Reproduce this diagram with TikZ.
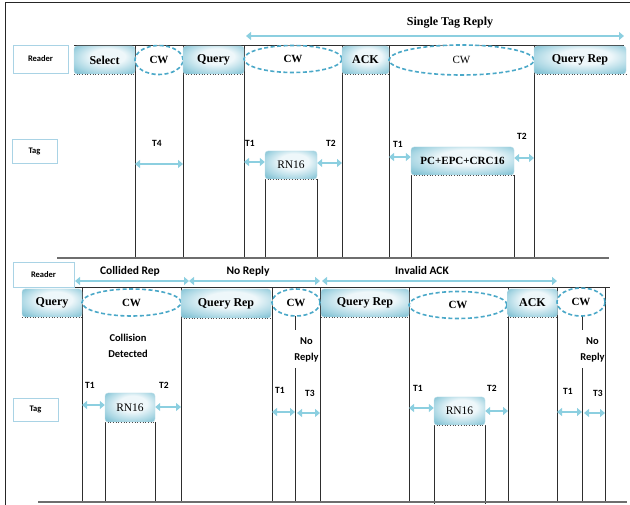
\documentclass[tikz,border=0pt]{standalone}
\usepackage{fontspec}
\setmainfont{Liberation Serif}
\newfontfamily\sansf{Carlito}
\usetikzlibrary{arrows.meta,shapes.geometric}
\definecolor{arrowc}{HTML}{8CCFE0}
\definecolor{dashc}{HTML}{4AA8C8}
\definecolor{boxd}{HTML}{58ABC3}
\definecolor{boxm}{HTML}{A8D6E3}
\definecolor{boxl}{HTML}{EEF7FA}
\definecolor{lblb}{HTML}{A9D3E5}
\definecolor{vline}{HTML}{2E2E2E}
\definecolor{basec}{HTML}{6E6E6E}
\pgfdeclareradialshading{boxshade}{\pgfpoint{4bp}{9bp}}{%
  color(0bp)=(boxl); color(14bp)=(boxl); color(28bp)=(boxm); color(42bp)=(boxd); color(50bp)=(boxd)}
\tikzset{
  msg/.style={rectangle, rounded corners=3pt, shading=boxshade,
    draw=boxd!40, line width=0.4pt, text=black, font=\bfseries\fontsize{12}{12}\selectfont, inner sep=0pt},
  tagmsg/.style={msg, font=\fontsize{11.5}{12}\selectfont},
  cw/.style={ellipse, draw=dashc, line width=1.6pt, dash pattern=on 4pt off 2.5pt,
    font=\bfseries\fontsize{11}{12}\selectfont, inner sep=0pt},
  lbl/.style={rectangle, draw=lblb, line width=0.9pt, fill=white, inner sep=0pt,
    font=\sansf\bfseries\fontsize{8.5}{10}\selectfont},
  tl/.style={font=\sansf\bfseries\fontsize{9.5}{10}\selectfont, inner sep=0pt},
  sl/.style={font=\sansf\bfseries\fontsize{11.5}{12}\selectfont, inner sep=0pt},
  dbl/.style={draw=arrowc, line width=2.6pt, {Triangle[length=5pt,width=8pt]}-{Triangle[length=5pt,width=8pt]}},
  vl/.style={draw=vline, line width=1pt},
  base/.style={draw=basec, line width=2.4pt},
  dotb/.style={draw=black!70, line width=0.7pt, dotted},
}
\begin{document}
\begin{tikzpicture}[x=1pt,y=-1pt]
\useasboundingbox (0,0) rectangle (630,505);
% outer frame
\draw[draw=black!85, line width=1pt] (5,505) -- (5,3) -- (630,3);

% ================= top section =================
\node[lbl, minimum width=55, minimum height=28] (rd1) at (40.5,59) {Reader};
\node[lbl, minimum width=45, minimum height=24] (tg1) at (34.5,151) {Tag};

\foreach \x in {135,183,244,342,389,534} \draw[vl] (\x,46) -- (\x,258);
\foreach \x in {265,317} \draw[vl] (\x,179) -- (\x,258);
\foreach \x in {411,514} \draw[vl] (\x,175) -- (\x,258);
\draw[vl] (74,46) -- (624,46);
\draw[base] (57,258) -- (609,258);

\node[msg, minimum width=61, minimum height=28] (sel) at (104.5,60) {Select};
\node[cw, minimum width=48, minimum height=29, fill=white] (cw1) at (159,60) {CW};
\node[msg, minimum width=61, minimum height=28] (qry) at (213.5,60) {Query};
\node[cw, minimum width=98, minimum height=27, fill=white] (cw2) at (293,59) {CW};
\node[msg, minimum width=47, minimum height=28] (ack) at (365.5,60) {ACK};
\node[cw, minimum width=145, minimum height=30, fill=white, font=\fontsize{11}{12}\selectfont] (cw3) at (461.5,60) {CW};
\node[msg, minimum width=92, minimum height=28] (qrp) at (580,60) {Query Rep};
\foreach \n in {sel,qry,ack,qrp} \draw[dotb] (\n.south west) -- (\n.south east);

\coordinate (st1) at (246,36);
\coordinate (st2) at (624,36);
\draw[dbl] (st1) -- (st2);
\node[font=\bfseries\fontsize{12}{12}\selectfont] (stl) at (450,23) {Single Tag Reply};

\node[tagmsg, minimum width=52, minimum height=28] (rn1) at (291,165) {RN16};
\node[tagmsg, minimum width=103, minimum height=28, font=\bfseries\fontsize{11}{12}\selectfont] (pc) at (462.5,161) {PC+EPC+CRC16};
\foreach \n in {rn1,pc} \draw[dotb] (\n.south west) -- (\n.south east);

\node[tl] (t4) at (157,143) {T4};
\draw[dbl] (135,164) -- (183,164);
\node[tl] (t1a) at (250,143) {T1};
\draw[dbl] (244,162) -- (rn1.west |- 0,162);
\node[tl] (t2a) at (331,143) {T2};
\draw[dbl] (rn1.east |- 0,163) -- (342,163);
\node[tl] (t1b) at (398,144) {T1};
\draw[dbl] (389,157) -- (pc.west |- 0,157);
\node[tl] (t2b) at (522,136) {T2};
\draw[dbl] (pc.east |- 0,158) -- (534,158);

% ================= bottom section =================
\node[lbl, minimum width=61, minimum height=25] (rd2) at (43.5,274.5) {Reader};
\node[lbl, minimum width=45, minimum height=23] (tg2) at (35.5,409.5) {Tag};

\foreach \x in {82,181,272,320,409,508,557,605} \draw[vl] (\x,288) -- (\x,502);
\foreach \x in {105,155} \draw[vl] (\x,422) -- (\x,502);
\foreach \x in {434,485} \draw[vl] (\x,425) -- (\x,504);
\foreach \x in {295,582} {\draw[vl] (\x,316) -- (\x,330); \draw[vl] (\x,368) -- (\x,502);}
\draw[vl] (75,288) -- (610,288);
\draw[base] (38,502) -- (627,502);

\draw[dbl] (75,281) -- (189,281);
\draw[dbl] (189,281) -- (320,281);
\draw[dbl] (322,281) -- (557,281);
\node[sl] (cr) at (130,271) {Collided Rep};
\node[sl] (nr) at (248,271) {No Reply};
\node[sl] (ia) at (422,271) {Invalid ACK};

\node[msg, minimum width=60, minimum height=28] (q2) at (52,303) {Query};
\node[cw, minimum width=99, minimum height=27, fill=white] (cw4) at (131.5,302.5) {CW};
\node[msg, minimum width=90, minimum height=29] (qr2) at (226,303.5) {Query Rep};
\node[cw, minimum width=48, minimum height=27, fill=white] (cw5) at (296,302.5) {CW};
\node[msg, minimum width=88, minimum height=28] (qr3) at (365,303) {Query Rep};
\node[cw, minimum width=98, minimum height=27, fill=white] (cw6) at (458,305) {CW};
\node[msg, minimum width=50, minimum height=28] (ack2) at (532.5,303) {ACK};
\node[cw, minimum width=48, minimum height=28, fill=white] (cw7) at (581,302) {CW};
\foreach \n in {q2,qr2,qr3,ack2} \draw[dotb] (\n.south west) -- (\n.south east);

\node[sl, align=center, font=\sansf\bfseries\fontsize{10.5}{16}\selectfont] (cd) at (128,346) {Collision\\Detected};
\node[sl, align=center, font=\sansf\bfseries\fontsize{10.5}{16}\selectfont] (nr1) at (306.5,350) {No\\Reply};
\node[sl, align=center, font=\sansf\bfseries\fontsize{10.5}{16}\selectfont] (nr2) at (592.5,350) {No\\Reply};

\node[tagmsg, minimum width=50, minimum height=29] (rn2) at (130,407.5) {RN16};
\node[tagmsg, minimum width=51, minimum height=28] (rn3) at (459.5,411) {RN16};
\foreach \n in {rn2,rn3} \draw[dotb] (\n.south west) -- (\n.south east);

\node[tl] (t1c) at (90,385) {T1};
\draw[dbl] (82,405) -- (rn2.west |- 0,405);
\node[tl] (t2c) at (164,385) {T2};
\draw[dbl] (rn2.east |- 0,407) -- (181,407);
\node[tl] (t1d) at (280,390) {T1};
\draw[dbl] (272,412) -- (295,412);
\node[tl] (t3a) at (310,393) {T3};
\draw[dbl] (297,413) -- (320,413);
\node[tl] (t1e) at (418,388) {T1};
\draw[dbl] (409,408) -- (rn3.west |- 0,408);
\node[tl] (t2d) at (492,388) {T2};
\draw[dbl] (rn3.east |- 0,411) -- (508,411);
\node[tl] (t1f) at (568,391) {T1};
\draw[dbl] (557,412) -- (582,412);
\node[tl] (t3b) at (598,393) {T3};
\draw[dbl] (584,413) -- (605,413);
\end{tikzpicture}
\end{document}
